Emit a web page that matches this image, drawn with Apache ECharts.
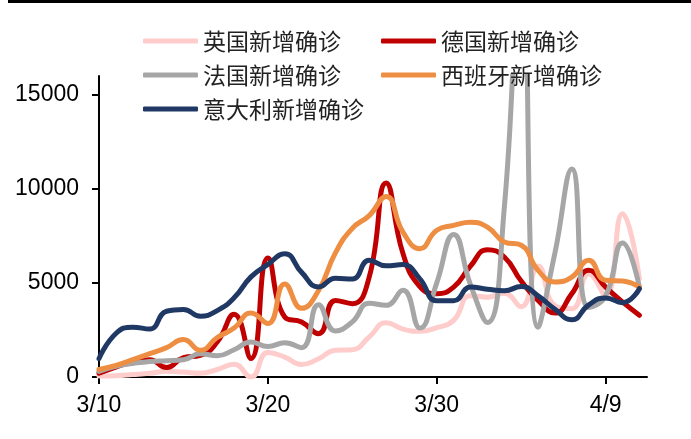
<!DOCTYPE html>
<html>
<head>
<meta charset="utf-8">
<script src="https://cdn.jsdelivr.net/npm/echarts@6/dist/echarts.min.js"></script>
<style>
html,body{margin:0;padding:0;background:#fff;}
#chart{width:691px;height:439px;}
</style>
</head>
<body>
<div id="chart"></div>
<script>
// Dates: day 0 = 3/10 ... day 32 = 4/11
const dates = ['3/10','3/11','3/12','3/13','3/14','3/15','3/16','3/17','3/18','3/19','3/20','3/21','3/22','3/23','3/24','3/25','3/26','3/27','3/28','3/29','3/30','3/31','4/1','4/2','4/3','4/4','4/5','4/6','4/7','4/8','4/9','4/10','4/11'];
const xTickLabels = ['3/10','3/20','3/30','4/9'];
const yTicks = [0, 5000, 10000, 15000];

const seriesNames = ['英国新增确诊','德国新增确诊','法国新增确诊','西班牙新增确诊','意大利新增确诊'];
const ukNew      = [50,70,130,200,300,260,200,400,680,0,1300,1060,665,967,1427,1452,2129,2885,2546,2433,2619,3009,4324,4244,4450,3735,5903,3802,3634,5491,4344,8681,5233];
const germanyNew = [200,530,800,920,500,1030,1150,1860,3330,980,6320,3190,2920,2300,4070,3900,5310,10310,6560,4800,4430,4780,5900,6770,6380,5100,4070,3400,4430,5670,4780,3990,3280];
const franceNew  = [300,570,720,830,870,920,1230,1130,1450,1860,1620,1820,1560,3840,2450,2930,3920,3810,4610,2600,5000,7580,4900,2900,9000,23000,2650,6600,11060,3700,4300,7120,4785];
const spainNew   = [400,620,920,1240,1560,1990,1420,2100,2600,3400,2840,4950,3650,4600,6600,7900,8580,9600,7700,6820,7800,8060,8220,7970,7180,7000,5670,5050,5310,6200,5140,5100,4780];
const italyNew   = [977,2313,2651,2547,3497,3590,3233,3526,4207,5322,5986,6557,5560,4789,5249,5210,6203,5909,5974,5217,4050,4053,4782,4668,4585,4805,4316,3599,3039,3836,4204,3951,4694];

const colors = ['#FFCCCC','#C00000','#A6A6A6','#EE8E42','#1F3864'];
const allData = [ukNew, germanyNew, franceNew, spainNew, italyNew];

const tickDays = xTickLabels.map(l => dates.indexOf(l));

const chart = echarts.init(document.getElementById('chart'), null, {renderer:'canvas'});
const axisFont = 'Liberation Sans, Arial, sans-serif';
const cjkFont = '"Noto Sans CJK SC", sans-serif';

const legendCommon = {
  orient: 'vertical',
  icon: 'roundRect',
  itemWidth: 55,
  itemHeight: 5,
  itemGap: 10,
  padding: 0,
  textStyle: {fontFamily: cjkFont, fontSize: 23, lineHeight: 24, color: '#222'}
};

const option = {
  animation: false,
  backgroundColor: '#fff',
  color: colors,
  graphic: [{
    type: 'rect', left: 8, top: 0,
    shape: {width: 683, height: 3},
    style: {fill: '#000'}
  }],
  legend: [
    Object.assign({}, legendCommon, {left: 143, top: 29, data: [seriesNames[0], seriesNames[2], seriesNames[4]]}),
    Object.assign({}, legendCommon, {left: 381, top: 29, data: [seriesNames[1], seriesNames[3]]})
  ],
  grid: {left: 99, right: 44, top: 76, bottom: 62, containLabel: false},
  xAxis: {
    type: 'value',
    min: 0,
    max: 32.45,
    splitLine: {show: false},
    axisLine: {show: true, lineStyle: {color: '#000', width: 2}},
    axisTick: {show: true, length: 7, lineStyle: {color: '#000', width: 2}, customValues: tickDays},
    axisLabel: {
      customValues: tickDays,
      formatter: v => dates[Math.round(v)] || '',
      fontFamily: axisFont, fontSize: 23, color: '#000', margin: 17
    }
  },
  yAxis: {
    type: 'value',
    min: 0,
    max: 16000,
    splitLine: {show: false},
    axisLine: {show: true, lineStyle: {color: '#000', width: 2}},
    axisTick: {show: true, length: 7, lineStyle: {color: '#000', width: 2}, customValues: yTicks},
    axisLabel: {
      customValues: yTicks,
      formatter: v => String(Math.round(v)),
      fontFamily: axisFont, fontSize: 23, color: '#000', margin: 20
    }
  },
  series: seriesNames.map((name, i) => ({
    name: name,
    type: 'line',
    smooth: 0.5,
    showSymbol: false,
    symbol: 'none',
    clip: true,
    lineStyle: {width: 5, color: colors[i], cap: 'round', join: 'round'},
    itemStyle: {color: colors[i]},
    data: allData[i].map((v, d) => [d, v])
  }))
};
chart.setOption(option);
</script>
</body>
</html>
